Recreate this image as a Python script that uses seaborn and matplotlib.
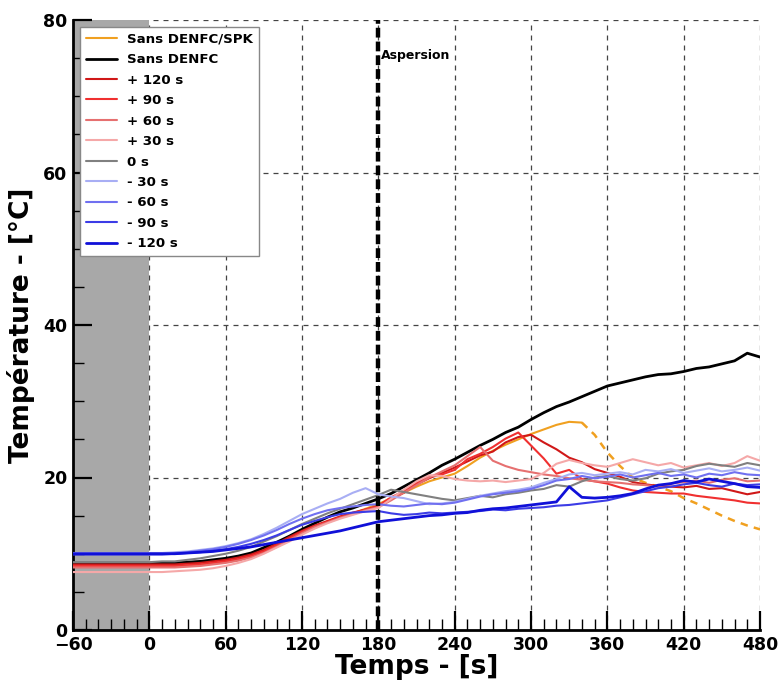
import numpy as np
import pandas as pd
import matplotlib
matplotlib.use("Agg")
import matplotlib.pyplot as plt
from matplotlib.ticker import MultipleLocator
import seaborn as sns

# ---- data ----
t = list(range(-60, 490, 10))

sans_denfc_spk = [8.3]*7 + [8.3, 8.3, 8.4, 8.5, 8.7, 8.9,
                            9.2, 9.7, 10.5, 11.3, 12.0, 12.8,
                            13.5, 14.2, 14.8, 15.3, 15.9, 16.5,
                            17.3, 18.0, 18.8, 19.5, 20.0, 20.5,
                            21.5, 22.6, 23.5, 24.3, 25.0, 25.7,
                            26.3, 26.9, 27.3, 27.2, 25.6, 23.3,
                            21.5, 20.0, 19.3, 18.8, 18.2, 17.3,
                            16.6, 15.8, 15.0, 14.3, 13.7, 13.2]
spk_solid_until = 340

sans_denfc = [8.7]*7 + [8.8, 8.8, 8.9, 9.0, 9.2, 9.4,
                        9.7, 10.1, 10.8, 11.5, 12.3, 13.2,
                        14.0, 14.8, 15.5, 16.0, 16.6, 17.2,
                        17.9, 18.8, 19.7, 20.6, 21.6, 22.4,
                        23.3, 24.2, 25.0, 25.9, 26.6, 27.6,
                        28.5, 29.3, 29.9, 30.6, 31.3, 32.0,
                        32.4, 32.8, 33.2, 33.5, 33.6, 33.9,
                        34.3, 34.5, 34.9, 35.3, 36.3, 35.8]

p120 = [8.6]*7 + [8.6, 8.6, 8.7, 8.8, 9.0, 9.2,
                  9.5, 9.9, 10.5, 11.3, 12.2, 13.0,
                  13.7, 14.3, 14.9, 15.4, 15.8, 16.2,
                  17.2, 18.0, 19.1, 19.9, 20.6, 21.3,
                  22.1, 22.9, 23.4, 24.6, 25.3, 25.6,
                  24.6, 23.7, 22.6, 22.0, 21.1, 20.6,
                  20.1, 19.4, 19.1, 18.9, 18.8, 18.7,
                  18.9, 18.5, 18.6, 18.2, 17.8, 18.1]

p90 = [8.4]*7 + [8.4, 8.4, 8.5, 8.6, 8.8, 9.0,
                 9.3, 9.7, 10.3, 11.1, 12.0, 12.9,
                 13.6, 14.2, 14.8, 15.3, 15.8, 16.3,
                 17.4, 18.2, 19.3, 20.1, 20.4, 21.0,
                 22.4, 23.1, 24.0, 25.1, 25.9, 24.2,
                 22.5, 20.5, 21.0, 19.8, 19.5, 19.2,
                 18.7, 18.3, 18.1, 18.0, 17.9, 17.9,
                 17.6, 17.4, 17.2, 17.0, 16.7, 16.6]

p60 = [8.2]*7 + [8.2, 8.2, 8.3, 8.4, 8.6, 8.8,
                 9.1, 9.5, 10.1, 10.9, 11.8, 12.7,
                 13.5, 14.1, 14.7, 15.2, 15.7, 16.1,
                 17.0, 18.0, 19.0, 20.0, 20.8, 21.6,
                 22.8, 24.0, 22.2, 21.5, 21.0, 20.7,
                 20.4, 20.2, 19.9, 19.7, 19.5, 19.4,
                 19.3, 19.1, 19.0, 18.8, 19.2, 19.4,
                 19.6, 19.3, 19.7, 19.9, 19.5, 19.6]

p30 = [7.6]*7 + [7.6, 7.7, 7.8, 7.9, 8.1, 8.4,
                 8.8, 9.3, 10.0, 10.8, 11.6, 12.5,
                 13.3, 14.0, 14.6, 15.1, 15.6, 16.0,
                 17.2, 18.4, 19.5, 20.3, 20.2, 19.8,
                 19.6, 19.5, 19.6, 19.4, 19.6, 19.8,
                 20.6, 21.8, 22.3, 21.9, 21.6, 21.4,
                 21.9, 22.4, 22.0, 21.6, 21.9, 21.3,
                 21.6, 21.9, 21.5, 21.9, 22.8, 22.2]

z0 = [8.9]*7 + [9.0, 9.0, 9.2, 9.4, 9.7, 10.0,
                10.4, 10.9, 11.6, 12.3, 13.1, 13.9,
                14.6, 15.3, 15.9, 16.5, 17.1, 17.7,
                18.4, 18.1, 17.8, 17.5, 17.2, 17.0,
                17.3, 17.6, 17.4, 17.8, 18.0, 18.3,
                18.5, 19.0, 18.8, 19.5, 20.0, 20.2,
                19.8, 19.6, 19.9, 20.5, 20.8, 21.0,
                21.5, 21.8, 21.6, 21.4, 21.9, 21.6]

m30 = [10.1]*7 + [10.1, 10.2, 10.3, 10.5, 10.7, 11.0,
                  11.4, 11.9, 12.6, 13.4, 14.3, 15.2,
                  15.9, 16.6, 17.2, 18.0, 18.6, 17.8,
                  17.5, 17.3, 16.9, 16.5, 16.6, 16.8,
                  17.2, 17.6, 17.9, 18.2, 18.4, 18.7,
                  19.3, 19.8, 20.4, 20.6, 20.3, 20.5,
                  20.7, 20.4, 21.0, 20.8, 21.1, 20.6,
                  20.9, 21.2, 20.8, 21.0, 21.3, 20.9]

m60 = [10.0]*7 + [10.0, 10.1, 10.2, 10.4, 10.6, 10.9,
                  11.3, 11.8, 12.4, 13.1, 13.9, 14.6,
                  15.2, 15.7, 16.0, 16.2, 16.4, 16.5,
                  16.3, 16.2, 16.4, 16.6, 16.5, 16.7,
                  17.1, 17.5, 17.8, 18.0, 18.2, 18.5,
                  19.0, 19.6, 19.8, 20.2, 19.9, 20.1,
                  20.4, 20.0, 20.3, 20.6, 20.2, 20.4,
                  20.0, 20.5, 20.3, 20.7, 20.4, 20.3]

m90 = [9.9]*7 + [9.9, 10.0, 10.1, 10.2, 10.4, 10.6,
                 10.9, 11.3, 11.8, 12.4, 13.1, 13.8,
                 14.3, 14.8, 15.2, 15.4, 15.5, 15.6,
                 15.3, 15.1, 15.2, 15.4, 15.3, 15.4,
                 15.5, 15.6, 15.8, 15.7, 15.9, 16.0,
                 16.1, 16.3, 16.4, 16.6, 16.8, 17.0,
                 17.4, 17.8, 18.2, 18.6, 18.8, 19.1,
                 19.3, 19.0, 18.8, 19.2, 19.0, 19.1]

m120 = [10.0]*7 + [10.0, 10.0, 10.1, 10.2, 10.3, 10.5,
                   10.7, 10.9, 11.2, 11.5, 11.8, 12.1,
                   12.4, 12.7, 13.0, 13.4, 13.8, 14.2,
                   14.4, 14.6, 14.8, 15.0, 15.1, 15.3,
                   15.4, 15.7, 15.9, 16.0, 16.2, 16.4,
                   16.6, 16.8, 18.8, 17.4, 17.3, 17.4,
                   17.6, 17.9, 18.5, 19.0, 19.2, 19.6,
                   19.4, 19.8, 19.5, 19.2, 18.8, 18.7]

labels = ["Sans DENFC/SPK", "Sans DENFC", "+ 120 s", "+ 90 s", "+ 60 s",
          "+ 30 s", "0 s", "- 30 s", "- 60 s", "- 90 s", "- 120 s"]
colors = ["#f0a020", "#000000", "#d01818", "#f03030", "#e67070",
          "#f5a8a8", "#808080", "#a8aef4", "#7070f0", "#3c3ce6", "#1010d8"]

xticks = [-60, 0, 60, 120, 180, 240, 300, 360, 420, 480]
yticks = [0, 20, 40, 60, 80]

# ---- plot ----
sns.set_theme(style="white")
plt.rcParams["font.family"] = ["DejaVu Sans"]
plt.rcParams["font.weight"] = "bold"
for k in ("text.color", "axes.labelcolor", "xtick.color", "ytick.color"):
    plt.rcParams[k] = "black"

fig = plt.figure(figsize=(7.78, 6.8), dpi=100)
ax = fig.add_axes([73/778, 1-630/680, (760-73)/778, (630-20)/680])

ax.axvspan(-60, 0, color="#a8a8a8", zorder=1, lw=0)

# dashed grid lines below the shaded band, ticks above it
grid_kw = dict(color="#444444", linestyle=(0, (4, 4)), lw=0.9, zorder=0.8)
for xv in xticks[1:]:
    ax.axvline(xv, **grid_kw)
for yv in yticks[1:]:
    ax.axhline(yv, **grid_kw)

df_spk = pd.DataFrame({"t": t, "T": sans_denfc_spk})
solid = df_spk[df_spk["t"] <= spk_solid_until]
dashed = df_spk[df_spk["t"] >= spk_solid_until]
sns.lineplot(data=solid, x="t", y="T", color=colors[0], lw=1.5, ax=ax,
             label=labels[0], zorder=3)
sns.lineplot(data=dashed, x="t", y="T", color=colors[0], lw=1.8, ax=ax,
             linestyle=(0, (3, 2.5)), zorder=3)

series = [sans_denfc, p120, p90, p60, p30, z0, m30, m60, m90, m120]
for lab, col, vals in zip(labels[1:], colors[1:], series):
    lw = 2.0 if lab in ("Sans DENFC", "- 120 s") else 1.5
    sns.lineplot(x=t, y=vals, color=col, lw=lw, ax=ax, label=lab, zorder=3)

ax.axvline(180, color="black", lw=3.2, linestyle=(0, (2.2, 0.9)), zorder=4)
ax.text(182, 75.3, "Aspersion", fontsize=9, fontweight="bold", ha="left",
        va="center", zorder=5)

ax.set_xlim(-60, 480)
ax.set_ylim(0, 80)
ax.set_xticks(xticks)
ax.set_yticks(yticks)
ax.set_xticklabels([str(v).replace("-", "\u2212") for v in xticks])
ax.xaxis.set_minor_locator(MultipleLocator(10))
ax.yaxis.set_minor_locator(MultipleLocator(5))
ax.tick_params(which="major", direction="in", length=14, width=1.6,
               labelsize=12.5, pad=4, bottom=True, left=True, top=False, right=False,
               colors="black")
ax.tick_params(which="minor", direction="in", length=8, width=1.0,
               bottom=True, left=True, top=False, right=False, colors="black")
for lbl in ax.get_xticklabels() + ax.get_yticklabels():
    lbl.set_fontweight("bold")

ax.grid(False)
ax.set_axisbelow(False)
for s in ("top", "right"):
    ax.spines[s].set_visible(False)
for s in ("left", "bottom"):
    ax.spines[s].set_color("black")
    ax.spines[s].set_linewidth(2.0)

ax.set_xlabel("Temps - [s]", fontsize=19, fontweight="bold", labelpad=0)
ax.set_ylabel("Température - [°C]", fontsize=19, fontweight="bold", labelpad=6)

leg = ax.legend(loc="upper left", bbox_to_anchor=(0.01, 0.989), fontsize=9.6,
                frameon=True, fancybox=False, framealpha=1, edgecolor="#888888",
                handlelength=2.3, labelspacing=0.56, borderpad=0.45,
                handletextpad=0.8, borderaxespad=0)
leg.get_frame().set_linewidth(1.0)
for txt in leg.get_texts():
    txt.set_fontweight("bold")
leg.set_zorder(6)

fig.savefig("out.png", dpi=100)
